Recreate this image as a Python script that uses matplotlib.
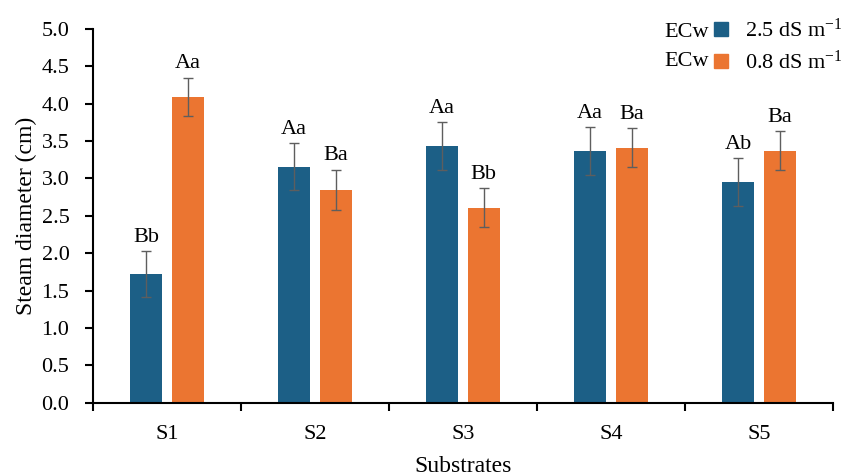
import matplotlib
matplotlib.use("Agg")
import matplotlib.pyplot as plt
import numpy as np
from matplotlib.lines import Line2D

plt.rcParams["font.family"] = ["Liberation Serif", "DejaVu Serif"]
plt.rcParams["mathtext.fontset"] = "custom"
plt.rcParams["mathtext.rm"] = "Liberation Serif"
plt.rcParams["mathtext.default"] = "regular"

# Stem diameter (cm) per substrate and irrigation water salinity
substrates = ["S1", "S2", "S3", "S4", "S5"]
ecw_high = [1.72, 3.16, 3.43, 3.37, 2.95]     # ECw 2.5 dS m-1
ecw_high_err = [0.31, 0.31, 0.32, 0.32, 0.32]
ecw_low = [4.09, 2.85, 2.61, 3.41, 3.37]      # ECw 0.8 dS m-1
ecw_low_err = [0.26, 0.27, 0.26, 0.26, 0.26]
letters_high = ["Bb", "Aa", "Aa", "Aa", "Ab"]
letters_low = ["Aa", "Ba", "Bb", "Ba", "Ba"]
series_labels = ["2.5 dS m$^{-1}$", "0.8 dS m$^{-1}$"]
y_ticks = [0.0, 0.5, 1.0, 1.5, 2.0, 2.5, 3.0, 3.5, 4.0, 4.5, 5.0]

blue = "#1C5F86"
orange = "#EB7531"
err_color = "#5E5E5E"
FS = 16

W, H = 857, 476
fig = plt.figure(figsize=(W / 100, H / 100), dpi=100)
ax = fig.add_axes([93 / W, 1 - 402.7 / H, (833 - 93) / W, (402.7 - 29) / H])

x = np.arange(len(substrates))
bw = 0.22
off = 0.141
err_kw = dict(ecolor=err_color, elinewidth=1.0, capsize=3.6, capthick=1.0)
ax.bar(x - off, ecw_high, bw, color=blue, yerr=ecw_high_err, error_kw=err_kw, zorder=2)
ax.bar(x + off, ecw_low, bw, color=orange, yerr=ecw_low_err, error_kw=err_kw, zorder=2)

for xi, v, e, t in zip(x - off, ecw_high, ecw_high_err, letters_high):
    ax.annotate(t, (xi, v + e), xytext=(0, 3), textcoords="offset points",
                ha="center", va="bottom", fontsize=FS)
for xi, v, e, t in zip(x + off, ecw_low, ecw_low_err, letters_low):
    ax.annotate(t, (xi, v + e), xytext=(0, 3), textcoords="offset points",
                ha="center", va="bottom", fontsize=FS)

ax.set_xlim(-0.5, len(substrates) - 0.5)
ax.set_ylim(0, 5.0)
ax.set_yticks(y_ticks)
ax.set_yticklabels([f"{t:.1f}" for t in y_ticks])
ax.set_xticks(x)
ax.set_xticklabels(substrates)
ax.tick_params(axis="x", length=0, pad=16, labelsize=FS)
ax.set_xticks(np.arange(-0.5, len(substrates)), minor=True)
ax.tick_params(axis="x", which="minor", length=6, width=1.5, direction="out")
ax.tick_params(axis="y", length=6, width=1.5, direction="out", labelsize=FS, pad=11)

for s in ["top", "right"]:
    ax.spines[s].set_visible(False)
for s in ["left", "bottom"]:
    ax.spines[s].set_linewidth(1.5)
    ax.spines[s].set_color("black")

ax.set_ylabel("Steam diameter (cm)", fontsize=17, labelpad=3)
ax.set_xlabel("Substrates", fontsize=17, labelpad=9)

# Legend: "ECw" prefix column followed by the coloured square and salinity level
blank = Line2D([], [], linestyle="none", marker=None)
h_blue = Line2D([], [], linestyle="none", marker="s", markersize=9.5,
                markerfacecolor=blue, markeredgecolor=blue)
h_orange = Line2D([], [], linestyle="none", marker="s", markersize=9.5,
                  markerfacecolor=orange, markeredgecolor=orange)
fig.legend([blank, blank, h_blue, h_orange],
           ["ECw", "ECw", series_labels[0], series_labels[1]],
           ncol=2, loc="upper left", bbox_to_anchor=(631 / W, 1 - 19 / H),
           frameon=False, fontsize=FS, handlelength=0.9, handletextpad=0.6,
           columnspacing=0.1, labelspacing=0.38, borderpad=0, borderaxespad=0)

fig.savefig("out.png", dpi=100)
